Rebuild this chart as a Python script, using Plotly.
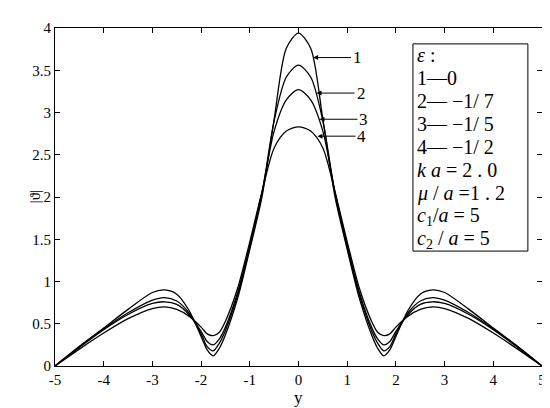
import plotly.graph_objects as go

# y positions (shared by all curves)
y_pos = [-5, -4.5, -4, -3.5, -3, -2.75, -2.5, -2.25, -2, -1.875, -1.75, -1.625, -1.5,
         -1.25, -1, -0.75, -0.5, -0.25, 0, 0.25, 0.5, 0.75, 1, 1.25, 1.5, 1.625,
         1.75, 1.875, 2, 2.25, 2.5, 2.75, 3, 3.5, 4, 4.5, 5]

# |theta| for the four epsilon values
theta_1 = [0.00, 0.23, 0.45, 0.67, 0.87, 0.90, 0.85, 0.66, 0.35, 0.19, 0.12, 0.21, 0.37,
           0.80, 1.38, 2.00, 2.92, 3.76, 3.94, 3.76, 2.92, 2.00, 1.38, 0.80, 0.37, 0.21,
           0.12, 0.19, 0.35, 0.66, 0.85, 0.90, 0.87, 0.67, 0.45, 0.23, 0.00]
theta_2 = [0.00, 0.23, 0.44, 0.63, 0.78, 0.81, 0.77, 0.63, 0.38, 0.23, 0.18, 0.27, 0.42,
           0.84, 1.41, 2.04, 2.90, 3.42, 3.56, 3.42, 2.90, 2.04, 1.41, 0.84, 0.42, 0.27,
           0.18, 0.23, 0.38, 0.63, 0.77, 0.81, 0.78, 0.63, 0.44, 0.23, 0.00]
theta_3 = [0.00, 0.22, 0.43, 0.61, 0.74, 0.76, 0.73, 0.61, 0.41, 0.29, 0.25, 0.32, 0.46,
           0.87, 1.43, 2.06, 2.78, 3.15, 3.27, 3.15, 2.78, 2.06, 1.43, 0.87, 0.46, 0.32,
           0.25, 0.29, 0.41, 0.61, 0.73, 0.76, 0.74, 0.61, 0.43, 0.22, 0.00]
theta_4 = [0.00, 0.20, 0.39, 0.56, 0.68, 0.70, 0.67, 0.59, 0.46, 0.38, 0.36, 0.40, 0.53,
           0.92, 1.47, 2.06, 2.58, 2.78, 2.83, 2.78, 2.58, 2.06, 1.47, 0.92, 0.53, 0.40,
           0.36, 0.38, 0.46, 0.59, 0.67, 0.70, 0.68, 0.56, 0.39, 0.20, 0.00]

x_ticks = [-5, -4, -3, -2, -1, 0, 1, 2, 3, 4, 5]
x_ticktext = ["-5", "-4", "-3", "-2", "-1", "0", "1", "2", "3", "4", "5"]
y_ticks = [0, 0.5, 1, 1.5, 2, 2.5, 3, 3.5, 4]
y_ticktext = ["0", "0.5", "1", "1.5", "2", "2.5", "3", "3.5", "4"]

FONT = "Liberation Serif"

fig = go.Figure()
for vals in (theta_1, theta_2, theta_3, theta_4):
    fig.add_trace(go.Scatter(
        x=y_pos, y=vals, mode="lines",
        line=dict(color="black", width=1.3, shape="spline", smoothing=0.8),
        showlegend=False, hoverinfo="skip",
    ))

# curve labels with arrows: (tip x, tip y, label)
arrows = [(0.30, 3.65, "1"), (0.37, 3.23, "2"), (0.43, 2.92, "3"), (0.39, 2.72, "4")]
annotations = []
for ax_, ay_, lab in arrows:
    annotations.append(dict(
        x=ax_, y=ay_, xref="x", yref="y", text=lab, showarrow=True,
        ax=38, ay=0, arrowhead=2, arrowsize=1, arrowwidth=1, arrowcolor="black",
        font=dict(family=FONT, size=17, color="black"), xanchor="left",
    ))

# parameter box text
box_lines = [
    "<i>ε</i> :",
    "1—0",
    "2— −1/ 7",
    "3— −1/ 5",
    "4— −1/ 2",
    "<i>k a</i> = 2 . 0",
    "<i>μ</i> / <i>a</i> =1 . 2",
    "<i>c</i><sub>1</sub>/<i>a</i> = 5",
    "<i>c</i><sub>2</sub> / <i>a</i> = 5",
]
for i, line in enumerate(box_lines):
    yc = 41.7 + 23.4 * i
    annotations.append(dict(
        x=0.739, y=(358 - yc) / 344, xref="paper", yref="paper",
        text=line, showarrow=False, xanchor="left", yanchor="middle",
        font=dict(family=FONT, size=20, color="black"),
    ))

annotations.append(dict(
    x=-0.061, y=0.5, xref="paper", yref="paper", text="|ϑ|", textangle=-90,
    showarrow=False, font=dict(family=FONT, size=15, color="black"),
))
annotations.append(dict(
    x=0.5, y=-0.128, xref="paper", yref="paper", text="y",
    showarrow=False, font=dict(family=FONT, size=17, color="black"),
))

axis_common = dict(
    showline=True, linecolor="black", linewidth=1, mirror="ticks",
    ticks="inside", ticklen=5, tickcolor="black", showgrid=False, zeroline=False,
    tickfont=dict(family=FONT, size=15, color="black"),
)

fig.update_layout(
    width=550, height=408,
    margin=dict(l=47, r=13, t=14, b=50),
    paper_bgcolor="white", plot_bgcolor="white",
    xaxis=dict(range=[-5, 5], tickvals=x_ticks, ticktext=x_ticktext, **axis_common),
    yaxis=dict(range=[0, 4], tickvals=y_ticks, ticktext=y_ticktext, **axis_common),
    shapes=[dict(type="rect", xref="paper", yref="paper",
                 x0=0.735, x1=0.971, y0=0.340, y1=0.953,
                 line=dict(color="black", width=1), fillcolor="white", layer="above")],
    annotations=annotations,
)

fig.write_html("out.html")
